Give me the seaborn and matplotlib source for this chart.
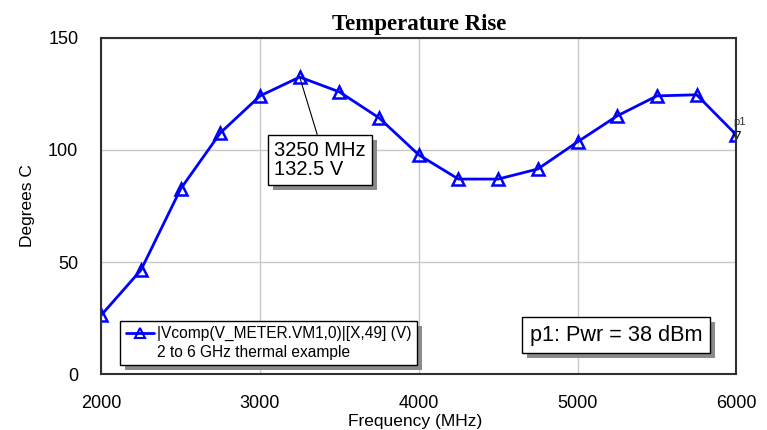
import matplotlib
matplotlib.use("Agg")
import matplotlib.pyplot as plt
import matplotlib.patheffects as pe
from matplotlib.lines import Line2D
import seaborn as sns
import pandas as pd

freq_mhz = [2000, 2250, 2500, 2750, 3000, 3250, 3500, 3750, 4000,
            4250, 4500, 4750, 5000, 5250, 5500, 5750, 6000]
deg_c = [26.3, 46.4, 82.6, 107.6, 124.1, 132.5, 125.9, 114.3, 97.8,
         87.0, 87.0, 91.5, 103.6, 115.2, 124.1, 124.6, 106.7]
x_ticks = [2000, 3000, 4000, 5000, 6000]
y_ticks = [0, 50, 100, 150]
series_label = "|Vcomp(V_METER.VM1,0)|[X,49] (V)"
series_note = "2 to 6 GHz thermal example"
marker_freq = 3250
marker_val = 132.5

sns.set_theme(style="white")
plt.rcParams['font.family'] = ['Liberation Sans', 'DejaVu Sans']
plt.rcParams['text.color'] = 'black'
plt.rcParams['axes.labelcolor'] = 'black'
plt.rcParams['xtick.color'] = 'black'
plt.rcParams['ytick.color'] = 'black'

df = pd.DataFrame({"Frequency (MHz)": freq_mhz, "Degrees C": deg_c})

fig = plt.figure(figsize=(7.67, 4.30), dpi=100)
ax = fig.add_axes([0.132, 0.130, 0.828, 0.782])

sns.lineplot(data=df, x="Frequency (MHz)", y="Degrees C", ax=ax,
             color="#0000ff", linewidth=2, marker="^", markersize=8,
             markerfacecolor="none", markeredgecolor="#0000ff",
             markeredgewidth=1.8, legend=False)

ax.set_xlim(2000, 6000)
ax.set_ylim(0, 150)
ax.set_xticks(x_ticks)
ax.set_yticks(y_ticks)
ax.tick_params(axis="x", labelsize=13, length=0, pad=15, labelcolor="black")
ax.tick_params(axis="y", labelsize=13, length=0, pad=16.5, labelcolor="black")
ax.grid(True, color="#c8c8c8", linewidth=1)
ax.set_axisbelow(True)
for side in ["left", "bottom", "top", "right"]:
    ax.spines[side].set_color("#303030")
    ax.spines[side].set_linewidth(1.5)
ax.set_xlabel("Frequency (MHz)", fontsize=12.5, color="black")
ax.xaxis.set_label_coords(0.494, -0.118)
ax.set_ylabel("Degrees C", fontsize=12.5, color="black")
ax.yaxis.set_label_coords(-0.105, 0.5)
ax.set_title("Temperature Rise", fontsize=16.5, fontweight="bold",
             family="Liberation Serif", pad=6, color="black")

shadow = [pe.SimplePatchShadow(offset=(3.5, -3.5), shadow_rgbFace="#8a8a8a", alpha=1.0), pe.Normal()]

# marker annotation
ann = ax.annotate(f"{marker_freq} MHz\n{marker_val} V",
                  xy=(marker_freq, marker_val), xytext=(3090, 87.0),
                  textcoords="data", color="black",
                  fontsize=14.5, ha="left", va="bottom", linespacing=1.0,
                  bbox=dict(boxstyle="square,pad=0.3", fc="white", ec="black", lw=1),
                  arrowprops=dict(arrowstyle="-", color="black", lw=0.8,
                                  shrinkA=0, shrinkB=0, relpos=(0.49, 1.0)))
ann.get_bbox_patch().set_path_effects(shadow)

# p1 marker at the last point
ax.plot([freq_mhz[-1]], [deg_c[-1]], marker="v", markersize=6, color="black",
        markerfacecolor="none", markeredgewidth=0.8, clip_on=False, ls="none")
ax.text(freq_mhz[-1] + 20, deg_c[-1] + 3.5, "p1", fontsize=8, ha="center",
        va="bottom", color="#303030")

# power box
pw = ax.text(0.811, 0.116, "p1: Pwr = 38 dBm", transform=ax.transAxes,
             fontsize=15.6, ha="center", va="center", color="black",
             bbox=dict(boxstyle="square,pad=0.36", fc="white", ec="black", lw=1))
pw.get_bbox_patch().set_path_effects(shadow)

# legend
h1 = Line2D([], [], color="#0000ff", lw=2, marker="^", markersize=7,
            markerfacecolor="none", markeredgecolor="#0000ff", markeredgewidth=1.5)
h2 = Line2D([], [], color="none", lw=0)
leg = ax.legend([h1, h2], [series_label, series_note], loc="lower left",
                bbox_to_anchor=(0.03, 0.027), borderaxespad=0, fontsize=11.2,
                frameon=True, fancybox=False, shadow=False, edgecolor="black",
                framealpha=1, handlelength=1.8, handletextpad=0.2,
                labelspacing=0.2, borderpad=0.35, labelcolor="black")
leg.get_frame().set_linewidth(1)
leg.get_frame().set_path_effects(shadow)

fig.savefig("out.png", dpi=100)
